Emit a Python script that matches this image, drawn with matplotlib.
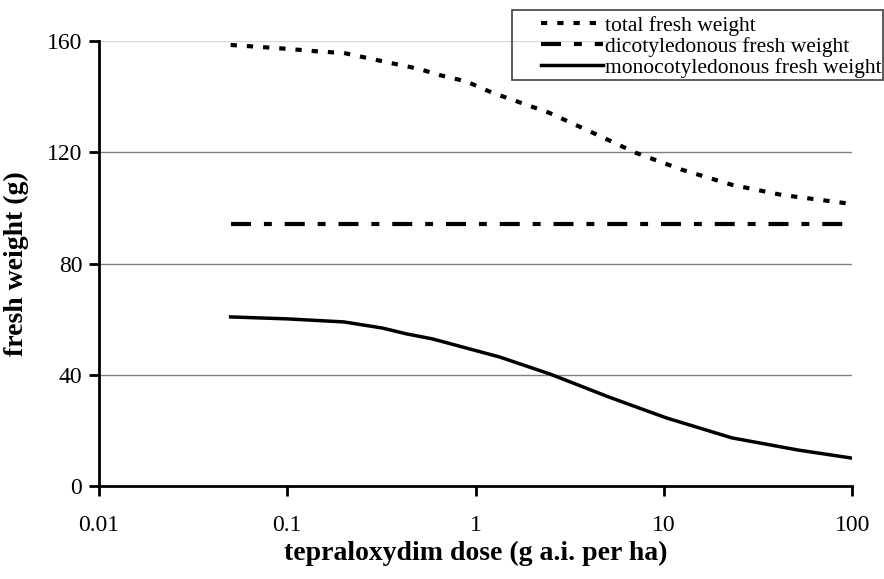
import matplotlib
matplotlib.use('Agg')
import matplotlib.pyplot as plt
from matplotlib.patches import Rectangle
from matplotlib.ticker import FixedLocator, FixedFormatter, NullLocator

plt.rcParams['font.family'] = ['Liberation Serif', 'DejaVu Serif']

# dose (g a.i. per ha) and fresh weight (g)
total_dose   = [0.05, 0.1, 0.15, 0.2, 0.36, 0.5, 0.64, 0.89, 1.23, 2.46, 4.2, 7.1, 12.5, 23, 42, 100]
total_weight = [158.6, 157.2, 156.2, 155.7, 152.0, 150.0, 147.8, 145.5, 141.4, 134.2, 127.0, 119.8, 113.7, 108.3, 104.7, 101.4]

dico_dose   = [0.05, 100]
dico_weight = [94.3, 94.3]

mono_dose   = [0.05, 0.1, 0.2, 0.32, 0.43, 0.59, 0.85, 1.34, 2.5, 5.1, 10.3, 23, 52, 96, 100]
mono_weight = [60.8, 60.1, 59.0, 56.8, 54.7, 52.9, 50.0, 46.4, 40.2, 32.0, 24.5, 17.3, 12.9, 10.2, 10.0]

x_ticks = [0.01, 0.1, 1, 10, 100]
x_tick_labels = ['0.01', '0.1', '1', '10', '100']
y_ticks = [0, 40, 80, 120, 160]

W, H = 884, 579
fig = plt.figure(figsize=(W / 100, H / 100), dpi=100)
ax = fig.add_axes([0.112, 0.1606, 0.852, 0.7685])

ax.plot(total_dose, total_weight, color='black', linewidth=3.0,
        dashes=(1.5, 2.4), label='total fresh weight')
ax.plot(dico_dose, dico_weight, color='black', linewidth=3.0,
        dashes=(4.8, 3.1, 1.9, 3.1), label='dicotyledonous fresh weight')
ax.plot(mono_dose, mono_weight, color='black', linewidth=2.5,
        label='monocotyledonous fresh weight')

ax.set_xscale('log')
ax.set_xlim(0.01, 100)
ax.set_ylim(0, 160)
ax.xaxis.set_major_locator(FixedLocator(x_ticks))
ax.xaxis.set_major_formatter(FixedFormatter(x_tick_labels))
ax.xaxis.set_minor_locator(NullLocator())
ax.set_yticks(y_ticks)

for y in y_ticks[1:]:
    ax.axhline(y, color='#808080' if y < 160 else '#d8d8d8', linewidth=1.0, zorder=0)

for side in ['top', 'right']:
    ax.spines[side].set_visible(False)
for side in ['left', 'bottom']:
    ax.spines[side].set_linewidth(2.0)
ax.tick_params(axis='both', direction='out', length=7, width=2.0,
               labelsize=17, pad=5)
ax.tick_params(axis='x', pad=14)

ax.set_xlabel('tepraloxydim dose (g a.i. per ha)', fontsize=20, fontweight='bold')
ax.set_ylabel('fresh weight (g)', fontsize=20, fontweight='bold')
ax.xaxis.set_label_coords(0.5, -0.124)
ax.yaxis.set_label_coords(-0.093, 0.5)

# legend entries without frame; the box is drawn separately with a wide left margin
leg = ax.legend(loc='upper right', bbox_to_anchor=(882 / W, 1 - 15.5 / H),
                bbox_transform=fig.transFigure, fontsize=15.5, frameon=False,
                handlelength=2.9, handletextpad=0.1, labelspacing=0.05,
                borderpad=0, borderaxespad=0)
fig.patches.append(Rectangle((512 / W, 1 - 80 / H), 371 / W, 70 / H,
                             transform=fig.transFigure, fill=False,
                             edgecolor='#404040', linewidth=1.2))

fig.savefig('out.png', dpi=100)
